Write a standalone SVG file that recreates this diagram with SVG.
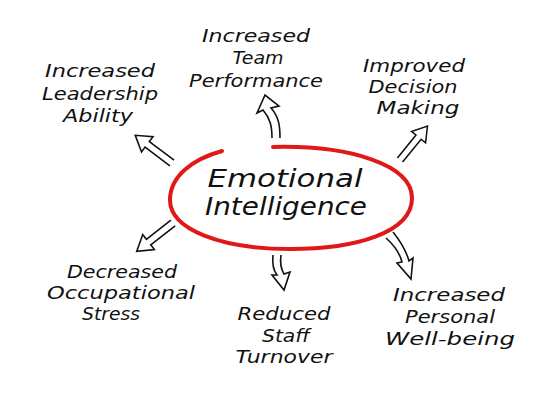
<svg xmlns="http://www.w3.org/2000/svg" width="550" height="415" viewBox="0 0 550 415">
<style>
text{font-family:"DejaVu Sans","Liberation Sans",sans-serif;font-style:italic;fill:#111;text-anchor:middle}
.lbl{font-size:18px}
.title{font-size:24px}
.arr{fill:#fff;stroke:#111;stroke-width:1.6;stroke-linejoin:miter}
.ring{fill:none;stroke:#e01818;stroke-width:4;stroke-linecap:round}
</style>
<defs>
<path id="sa" d="M0,-3.5 L31,-3.5 L31,-9.5 L46,0 L31,9.5 L31,3.5 L0,3.5"/>
</defs>
<rect width="550" height="415" fill="#fff"/>
<g id="center">
<path class="ring" d="M273,147 C350,145 412,165 412,198 C412,233 355,249 290,249 C220,249 170,229 170,200 C170,176 193,159 222,151"/>
<text class="title" x="285" y="187" textLength="155" lengthAdjust="spacingAndGlyphs">Emotional</text>
<text class="title" x="286" y="215" textLength="162" lengthAdjust="spacingAndGlyphs">Intelligence</text>
</g>
<g id="connectors">
<use href="#sa" class="arr" transform="translate(172,163) rotate(217)"/>
<use href="#sa" class="arr" transform="translate(400,160) rotate(-51) scale(0.95)"/>
<use href="#sa" class="arr" transform="translate(173,223) rotate(142)"/>
<path class="arr" d="M272,138 C272,126 270,118 263,110 L257,113 L265,95 L279,106 L271,108 C279,117 280,126 280,138"/>
<path class="arr" d="M273,255 C272,264 274,271 277,275 L272,275 L284,290 L290,272 L284,274 C281,269 280,262 281,255"/>
<path class="arr" d="M386,238 C395,246 400,254 402,262 L397,263 L411,279 L413,258 L409,261 C406,250 401,242 393,232"/>
</g>
<g id="leadership"><text class="lbl" x="100" y="77" textLength="110" lengthAdjust="spacingAndGlyphs">Increased</text><text class="lbl" x="100" y="100" textLength="116" lengthAdjust="spacingAndGlyphs">Leadership</text><text class="lbl" x="98" y="122" textLength="70" lengthAdjust="spacingAndGlyphs">Ability</text></g>
<g id="team"><text class="lbl" x="256" y="42" textLength="108" lengthAdjust="spacingAndGlyphs">Increased</text><text class="lbl" x="258" y="64" textLength="51" lengthAdjust="spacingAndGlyphs">Team</text><text class="lbl" x="256" y="87" textLength="134" lengthAdjust="spacingAndGlyphs">Performance</text></g>
<g id="decision"><text class="lbl" x="414" y="72" textLength="102" lengthAdjust="spacingAndGlyphs">Improved</text><text class="lbl" x="413" y="93" textLength="89" lengthAdjust="spacingAndGlyphs">Decision</text><text class="lbl" x="418" y="114" textLength="83" lengthAdjust="spacingAndGlyphs">Making</text></g>
<g id="stress"><text class="lbl" x="122" y="278" textLength="110" lengthAdjust="spacingAndGlyphs">Decreased</text><text class="lbl" x="121" y="299" textLength="148" lengthAdjust="spacingAndGlyphs">Occupational</text><text class="lbl" x="111" y="320" textLength="58" lengthAdjust="spacingAndGlyphs">Stress</text></g>
<g id="turnover"><text class="lbl" x="284" y="320" textLength="93" lengthAdjust="spacingAndGlyphs">Reduced</text><text class="lbl" x="286" y="342" textLength="48" lengthAdjust="spacingAndGlyphs">Staff</text><text class="lbl" x="284" y="363" textLength="97" lengthAdjust="spacingAndGlyphs">Turnover</text></g>
<g id="wellbeing"><text class="lbl" x="449" y="301" textLength="112" lengthAdjust="spacingAndGlyphs">Increased</text><text class="lbl" x="450" y="323" textLength="90" lengthAdjust="spacingAndGlyphs">Personal</text><text class="lbl" x="450" y="345" textLength="130" lengthAdjust="spacingAndGlyphs">Well-being</text></g>
</svg>
